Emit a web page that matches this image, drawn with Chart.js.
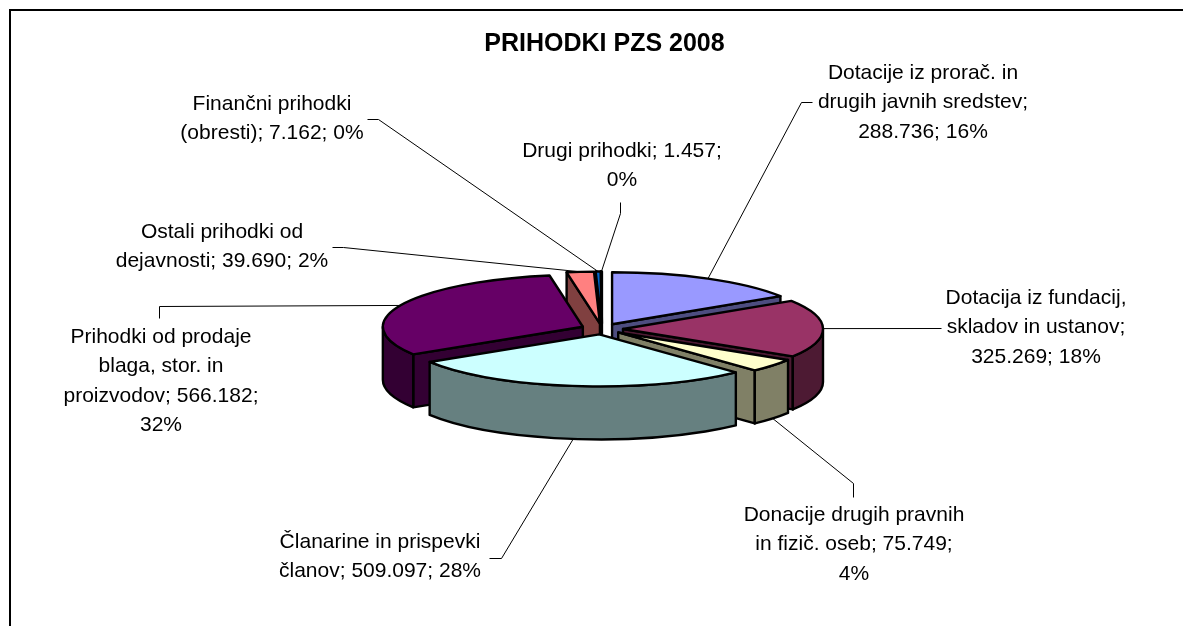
<!DOCTYPE html>
<html>
<head>
<meta charset="utf-8">
<title>Prihodki PZS 2008</title>
<script src="https://cdn.jsdelivr.net/npm/chart.js@4/dist/chart.umd.min.js"></script>
<style>
	html, body { margin: 0; padding: 0; background: #fff; overflow: hidden; }
	#wrap { position: absolute; left: 0; top: 0; width: 1183px; height: 626px; }
</style>
</head>
<body>
<div id="wrap"><canvas id="pie3d" width="1183" height="626"></canvas></div>
<script>
const categories = [
	'Dotacije iz prorač. in drugih javnih sredstev',
	'Dotacija iz fundacij, skladov in ustanov',
	'Donacije drugih pravnih in fizič. oseb',
	'Članarine in prispevki članov',
	'Prihodki od prodaje blaga, stor. in proizvodov',
	'Ostali prihodki od dejavnosti',
	'Finančni prihodki (obresti)',
	'Drugi prihodki'
];
const values = [288736, 325269, 75749, 509097, 566182, 39690, 7162, 1457];
const topColors = ['#9999FF', '#993366', '#FFFFCC', '#CCFFFF', '#660066', '#FF8080', '#0066CC', '#CCCCFF'];
const sideColors = ['#4D4D80', '#4D1A33', '#808066', '#668080', '#330033', '#804040', '#003366', '#666680'];

// label text is wrapped by hand the same way excel did it
const labelLines = [
	['Dotacije iz prorač. in', 'drugih javnih sredstev;', '288.736; 16%'],
	['Dotacija iz fundacij,', 'skladov in ustanov;', '325.269; 18%'],
	['Donacije drugih pravnih', 'in fizič. oseb; 75.749;', '4%'],
	['Članarine in prispevki', 'članov; 509.097; 28%'],
	['Prihodki od prodaje', 'blaga, stor. in', 'proizvodov; 566.182;', '32%'],
	['Ostali prihodki od', 'dejavnosti; 39.690; 2%'],
	['Finančni prihodki', '(obresti); 7.162; 0%'],
	['Drugi prihodki; 1.457;', '0%']
];

// label placement: centre x, first baseline, then the leader elbow points
const labelPlace = [
	{ x: 923, y: 79, elbow: [[812, 102], [801, 102]] },
	{ x: 1036, y: 304, elbow: [[941, 328]] },
	{ x: 854, y: 521, elbow: [[853, 497], [853, 483]] },
	{ x: 380, y: 548, elbow: [[489, 558], [501, 558]] },
	{ x: 161, y: 343, elbow: [[159, 318], [159, 306]] },
	{ x: 222, y: 238, elbow: [[332, 247], [343, 247]] },
	{ x: 272, y: 110, elbow: [[367, 119], [378, 119]] },
	{ x: 622, y: 157, elbow: [[620, 202], [620, 213]] }
];

const CENTER_X = 602;
const CENTER_Y = 329;
const RADIUS = 200;
const SQUASH = 0.26;
const DEPTH = 53;
const EXPLODE = 21;
const LINE_H = 29.3;

function sliceGeom(arc) {
	const mid = (arc.startAngle + arc.endAngle) / 2;
	return {
		x: CENTER_X + Math.cos(mid) * EXPLODE,
		y: CENTER_Y + Math.sin(mid) * EXPLODE * SQUASH,
		dx: CENTER_X - arc.x + Math.cos(mid) * EXPLODE,
		dy: Math.sin(mid) * EXPLODE,
		mid: mid
	};
}

function rim(g, r, t, z) {
	return [g.x + r * Math.cos(t), g.y + r * Math.sin(t) * SQUASH + z];
}

function paint(ctx, fill) {
	ctx.fillStyle = fill;
	ctx.fill();
	ctx.stroke();
}

function cutFace(ctx, g, r, t, fill) {
	const p = rim(g, r, t, 0);
	ctx.beginPath();
	ctx.moveTo(g.x, g.y);
	ctx.lineTo(p[0], p[1]);
	ctx.lineTo(p[0], p[1] + DEPTH);
	ctx.lineTo(g.x, g.y + DEPTH);
	ctx.closePath();
	paint(ctx, fill);
}

const pie3dPlugin = {
	id: 'pie3d',
	beforeDatasetsDraw(chart) {
		const ctx = chart.ctx;
		const arcs = chart.getDatasetMeta(0).data;
		const order = arcs.map((a, i) => i).sort((a, b) => {
			return Math.sin((arcs[a].startAngle + arcs[a].endAngle) / 2) - Math.sin((arcs[b].startAngle + arcs[b].endAngle) / 2);
		});

		// frame, excel clips the right and bottom side of it
		ctx.save();
		ctx.strokeStyle = '#000';
		ctx.lineWidth = 2;
		ctx.beginPath();
		ctx.moveTo(10, 626);
		ctx.lineTo(10, 10);
		ctx.lineTo(1183, 10);
		ctx.stroke();
		ctx.restore();

		// leaders first so the pie sits on top of their ends
		ctx.save();
		ctx.strokeStyle = '#000';
		ctx.lineWidth = 1;
		arcs.forEach((arc, i) => {
			const g = sliceGeom(arc);
			const r = arc.outerRadius;
			const front = Math.sin(g.mid) > 0.1 ? DEPTH : 0;
			const end = rim(g, r, g.mid, front);
			ctx.beginPath();
			labelPlace[i].elbow.forEach((p, k) => {
				if (k === 0) ctx.moveTo(p[0] + 0.5, p[1] + 0.5);
				else ctx.lineTo(p[0] + 0.5, p[1] + 0.5);
			});
			ctx.lineTo(end[0], end[1]);
			ctx.stroke();
		});
		ctx.restore();

		ctx.save();
		ctx.lineWidth = 2.4;
		ctx.lineJoin = 'round';
		ctx.strokeStyle = '#000';
		order.forEach(i => {
			const arc = arcs[i];
			const g = sliceGeom(arc);
			const r = arc.outerRadius;
			const t0 = arc.startAngle;
			const t1 = arc.endAngle;

			// cut faces that look towards the viewer
			if (Math.cos(t0) < 0) cutFace(ctx, g, r, t0, sideColors[i]);
			if (Math.cos(t1) > 0) cutFace(ctx, g, r, t1, sideColors[i]);

			// outer wall, only the front half of the rim
			const w0 = Math.max(t0, 0);
			const w1 = Math.min(t1, Math.PI);
			if (w1 > w0) {
				ctx.beginPath();
				ctx.ellipse(g.x, g.y, r, r * SQUASH, 0, w0, w1);
				ctx.ellipse(g.x, g.y + DEPTH, r, r * SQUASH, 0, w1, w0, true);
				ctx.closePath();
				paint(ctx, sideColors[i]);
			}

			// top face comes from the arc element itself, flattened
			ctx.save();
			ctx.translate(0, CENTER_Y);
			ctx.scale(1, SQUASH);
			ctx.translate(g.dx, g.dy - arc.y);
			arc.draw(ctx, chart.chartArea);
			ctx.restore();

			ctx.beginPath();
			ctx.moveTo(g.x, g.y);
			ctx.ellipse(g.x, g.y, r, r * SQUASH, 0, t0, t1);
			ctx.closePath();
			ctx.stroke();
		});
		ctx.restore();

		// data labels
		ctx.save();
		ctx.fillStyle = '#000';
		ctx.font = '21px "Liberation Sans", Arial, sans-serif';
		ctx.textAlign = 'center';
		ctx.textBaseline = 'alphabetic';
		labelLines.forEach((lines, i) => {
			lines.forEach((line, k) => {
				ctx.fillText(line, labelPlace[i].x, labelPlace[i].y + k * LINE_H);
			});
		});
		ctx.restore();

		return false;
	}
};

new Chart('pie3d', {
	type: 'pie',
	data: {
		labels: categories,
		datasets: [{
			data: values,
			backgroundColor: topColors,
			borderWidth: 0
		}]
	},
	options: {
		responsive: false,
		animation: false,
		radius: RADIUS,
		layout: { padding: { left: 26 } },
		plugins: {
			legend: { display: false },
			tooltip: { enabled: false },
			title: {
				display: true,
				text: 'PRIHODKI PZS 2008',
				color: '#000',
				font: { family: '"Liberation Sans", Arial, sans-serif', size: 25, weight: 'bold' },
				padding: { top: 29, bottom: 10 }
			}
		}
	},
	plugins: [pie3dPlugin]
});
</script>
</body>
</html>
